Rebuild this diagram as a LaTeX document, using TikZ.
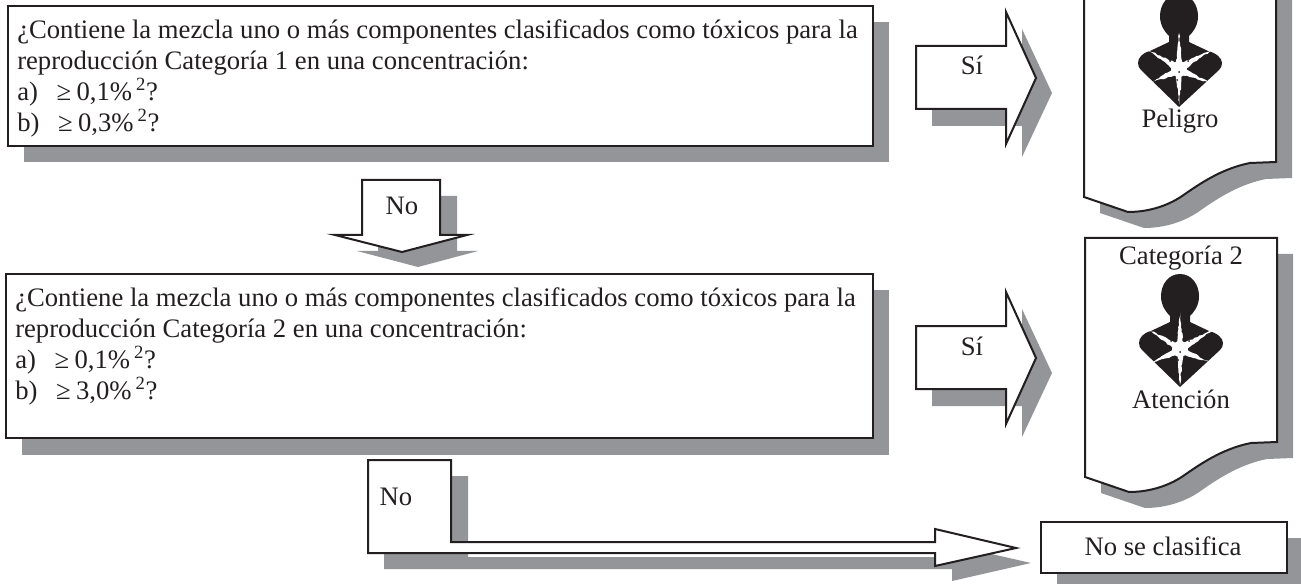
\documentclass[tikz,border=0pt]{standalone}
\usepackage{fontspec}
\setmainfont{Liberation Serif}
\usetikzlibrary{decorations.pathmorphing}
\definecolor{shadowgray}{HTML}{939598}
\definecolor{inkblack}{HTML}{231F20}
\tikzset{
    outline/.style={draw=inkblack,line width=1.5pt,fill=white,line join=miter},
    shade/.style={fill=shadowgray,draw=none},
    label/.style={inner sep=0pt,anchor=base,text=inkblack,font=\fontsize{20}{23.25}\selectfont},
    question/.style={inner sep=0pt,anchor=north west,align=left,text=inkblack,font=\fontsize{20}{23.25}\selectfont}
}
\begin{document}
\begin{tikzpicture}[x=0.75pt,y=-0.75pt]
    \useasboundingbox (0,0) rectangle (1301,584);
    \clip (0,0) rectangle (1301,584);
    % question boxes
    \fill[shade] (24,22) rectangle (889,162);
    \draw[outline] (8,6) rectangle (873,146);
    \node[question] (questionone) at (17,19) {¿Contiene la mezcla uno o más componentes clasificados como tóxicos para la\\reproducción Categoría 1 en una concentración:\\a)\hspace{0.7em}≥\hspace{0.2em}0,1\%\hspace{0.15em}\textsuperscript{2}?\\b)\hspace{0.7em}≥\hspace{0.2em}0,3\%\hspace{0.15em}\textsuperscript{2}?};
    \fill[shade] (22,290) rectangle (889,455);
    \draw[outline] (6,274) rectangle (873,438);
    \node[question] (questiontwo) at (15,287) {¿Contiene la mezcla uno o más componentes clasificados como tóxicos para la\\reproducción Categoría 2 en una concentración:\\a)\hspace{0.7em}≥\hspace{0.2em}0,1\%\hspace{0.15em}\textsuperscript{2}?\\b)\hspace{0.7em}≥\hspace{0.2em}3,0\%\hspace{0.15em}\textsuperscript{2}?};
    % yes arrows
    \foreach \i in {0,280}
    {
        \begin{scope}[yshift=-0.75*\i pt]
            \fill[shade] (932,62) -- (1022,62) -- (1022,29) -- (1052,93) -- (1022,157) -- (1022,126) -- (932,126) -- cycle;
            \draw[outline] (916,46) -- (1006,46) -- (1006,12) -- (1036,78) -- (1006,144) -- (1006,109) -- (916,109) -- cycle;
            \node[label] (yes\i) at (972,75) {Sí};
        \end{scope}
    }
    % label sheets with the health hazard sign
    \foreach \i/\j in {0/0,1/280}
    {
        \begin{scope}[xshift=0.75*\i pt,yshift=-0.75*\j pt]
            \fill[shade] (1100,-26) -- (1100,213) -- (1144,228) .. controls (1166,228) and (1186,221) .. (1201,210) .. controls (1221,196) and (1241,184) .. (1266,179) -- (1292,178) -- (1292,-26) -- cycle;
            \draw[outline] (1084,-42) -- (1084,197) -- (1128,212) .. controls (1150,212) and (1170,205) .. (1185,194) .. controls (1205,180) and (1225,168) .. (1250,163) -- (1276,162) -- (1276,-42) -- cycle;
            \fill[inkblack] (1179,-6) .. controls (1167,-6) and (1160,5) .. (1160,16) .. controls (1160,26) and (1165,32) .. (1169,36) -- (1169,42) -- (1150,51) .. controls (1142,53) and (1138,58) .. (1138,63) .. controls (1138,66) and (1139,68) .. (1141,70) -- (1179,107) -- (1219,70) .. controls (1221,68) and (1222,66) .. (1222,63) .. controls (1222,58) and (1216,53) .. (1208,51) -- (1189,42) -- (1189,36) .. controls (1193,32) and (1198,26) .. (1198,16) .. controls (1198,5) and (1191,-6) .. (1179,-6) -- cycle;
            \fill[white,decorate,decoration={random steps,segment length=2pt,amplitude=0.5pt}] (1179,33) -- (1182,63) -- (1212,50) -- (1185,69) -- (1208,82) -- (1182,75) -- (1179,105) -- (1176,75) -- (1152,82) -- (1173,69) -- (1148,50) -- (1176,63) -- cycle;
            \fill[white] (1179,69) circle (8);
            \foreach \sx/\sy in {1170/61,1188/61,1177/80,1179/72}
            {
                \fill[inkblack] (\sx,\sy) circle (1);
            }
        \end{scope}
    }
    \node[label] (sheetone) at (1180,128) {Peligro};
    \node[label] (sheettitle) at (1181,265) {Categoría 2};
    \node[label] (sheettwo) at (1181,408) {Atención};
    % no arrow going down
    \fill[shade] (378,196) -- (457,196) -- (457,251) -- (478,251) -- (418,267) -- (357,251) -- (378,251) -- cycle;
    \draw[outline] (362,180) -- (440,180) -- (440,235) -- (467,235) -- (402,252) -- (335,235) -- (362,235) -- cycle;
    \node[label] (noone) at (402,215) {No};
    % no arrow going to the right
    \fill[shade] (384,476) -- (468,476) -- (468,557) -- (952,557) -- (952,545) -- (1031,563) -- (952,581) -- (952,569) -- (384,569) -- cycle;
    \draw[outline] (368,460) -- (451,460) -- (451,542) -- (935,542) -- (935,529) -- (1016,548) -- (935,566) -- (935,553) -- (368,553) -- cycle;
    \node[label] (notwo) at (396,505) {No};
    % result box
    \fill[shade] (1057,538) rectangle (1303,589);
    \draw[outline] (1041,522) rectangle (1287,573);
    \node[label] (result) at (1163,555) {No se clasifica};
\end{tikzpicture}
\end{document}
